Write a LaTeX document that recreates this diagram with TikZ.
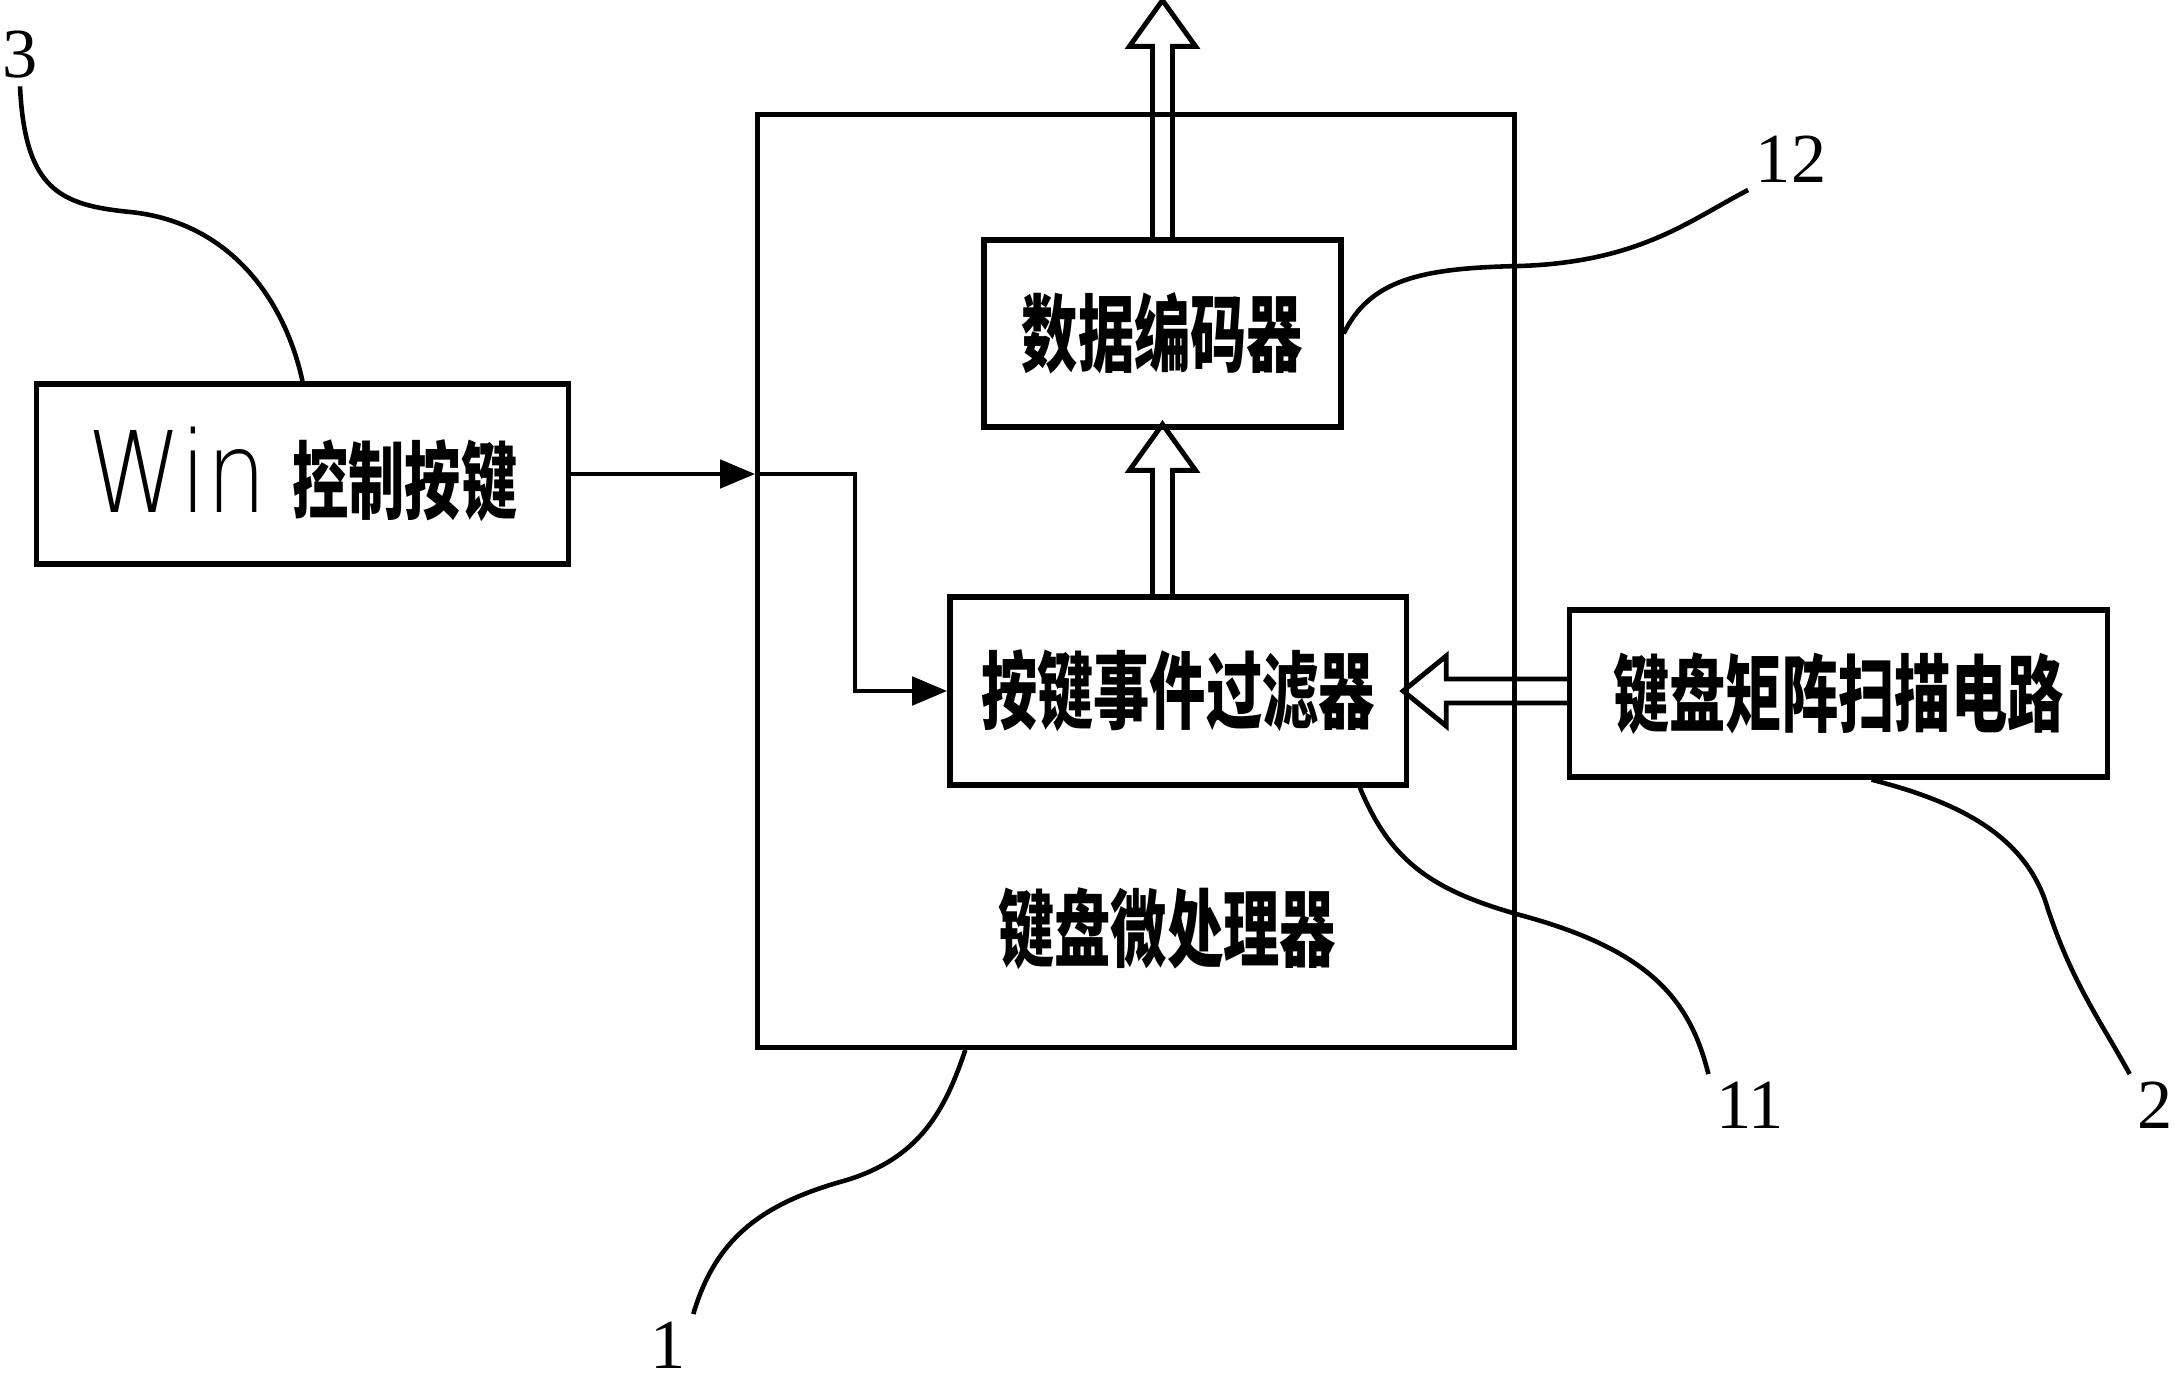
\documentclass[tikz,border=0pt]{standalone}
\usepackage{fontspec}
\newfontfamily\cjk{Noto Sans CJK SC}
\newfontfamily\winfont{DejaVu Sans ExtraLight}
\newfontfamily\digits{Liberation Serif}
\usetikzlibrary{arrows.meta}
\newcommand\tallcjk[1]{\scalebox{1}[1.5]{#1}}
\tikzset{
    every node/.style={inner sep=0pt, font=\cjk\bfseries\fontsize{16}{19}\selectfont}
}
\tikzset{
    box/.style={draw, rectangle, line width=1.5pt},
    num/.style={inner sep=2pt, font=\digits\fontsize{20}{24}\selectfont},
    leader/.style={line width=1.3pt},
    hollow/.style={line width=1.4pt, line join=miter},
    wire/.style={line width=1.4pt, -{Triangle[length=0.35cm, width=0.28cm]}}
}

\begin{document}
\begin{tikzpicture}[x=0.01cm, y=-0.01cm]
  \useasboundingbox (0,0) rectangle (2174,1379);

  \node (cpu) [box, minimum width=7.56cm, minimum height=9.32cm] at (1136, 581) {};
  \node (enc) [box, minimum width=3.57cm, minimum height=1.87cm] at (1162.5, 333.5) {\tallcjk{数据编码器}};
  \node (filt) [box, minimum width=4.56cm, minimum height=1.88cm] at (1178, 691) {\tallcjk{按键事件过滤器}};
  \node (win) [box, minimum width=5.31cm, minimum height=1.80cm] at (302.5, 474) {\scalebox{0.85}[1]{\winfont\mdseries\fontsize{32}{36}\selectfont Win}\hspace{0.25cm}\tallcjk{控制按键}};
  \node (scan) [box, minimum width=5.37cm, minimum height=1.67cm] at (1838.5, 693.5) {\tallcjk{键盘矩阵扫描电路}};
  \node (cpuname) at (1167, 929) {\tallcjk{键盘微处理器}};

  \node (n1) [num] at (668, 1345) {1};
  \node (n2) [num] at (2155, 1105) {2};
  \node (n3) [num] at (20, 55) {3};
  \node (n11) [num] at (1750, 1105) {11};
  \node (n12) [num] at (1791, 159) {12};

  \coordinate (turn) at (855, 474);

  \draw [hollow] (enc.north) ++(-10,0) -- ++(0,-191) -- ++(-23,0) -- ++(33,-46) -- ++(33,46) -- ++(-23,0) -- ++(0,191);
  \draw [hollow] (enc.south |- filt.north) ++(-10,0) -- ++(0,-124) -- ++(-23,0) -- ++(33,-46) -- ++(33,46) -- ++(-23,0) -- ++(0,124);
  \draw [hollow] (scan.west |- filt.east) ++(0,-12) -- ++(-121,0) -- ++(0,-23) -- ++(-43,35) -- ++(43,35) -- ++(0,-23) -- ++(121,0);

  \draw [wire] (win.east) -- (cpu.west |- win.east);
  \draw [wire] (cpu.west |- win.east) -- (turn) |- (filt.west);

  \draw [leader] (n3.south) .. controls (25,190) and (60,205) .. (130,212) .. controls (230,222) and (285,300) .. (win.north);
  \draw [leader] (enc.east) .. controls (1370,280) and (1420,268) .. (1520,266) .. controls (1640,262) and (1690,220) .. (n12.south west);
  \draw [leader] (filt.-28) .. controls (1390,860) and (1430,890) .. (1520,915) .. controls (1650,950) and (1690,1000) .. (n11.north west);
  \draw [leader] (scan.-69) .. controls (1950,800) and (2020,830) .. (2045,900) .. controls (2070,980) and (2100,1020) .. (n2.north west);
  \draw [leader] (cpu.-110) .. controls (945,1110) and (920,1160) .. (840,1182) .. controls (760,1205) and (715,1240) .. (n1.north east);
\end{tikzpicture}
\end{document}
